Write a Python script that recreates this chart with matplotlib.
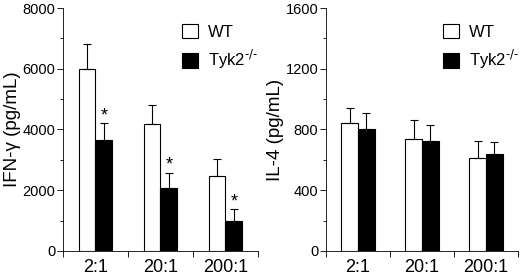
import numpy as np
import matplotlib
matplotlib.use("Agg")
import matplotlib.pyplot as plt
from matplotlib.ticker import MultipleLocator, FixedLocator

plt.rcParams["font.family"] = ["Liberation Sans", "DejaVu Sans"]

ratios = ["2:1", "20:1", "200:1"]

# IFN-gamma (pg/mL)
ifn_wt = [6000, 4180, 2480]
ifn_wt_err = [800, 620, 540]
ifn_ko = [3650, 2080, 980]
ifn_ko_err = [550, 500, 400]

# IL-4 (pg/mL)
il4_wt = [845, 740, 615]
il4_wt_err = [95, 125, 110]
il4_ko = [805, 725, 640]
il4_ko_err = [105, 105, 80]


def draw_panel(ax, wt, wt_err, ko, ko_err, ymax, ystep, ylabel, stars=False):
    x = np.arange(len(ratios))
    w = 0.26
    ekw = dict(elinewidth=0.8, capthick=0.8, ecolor="black")
    ax.bar(x - w / 2, wt, w, color="white", edgecolor="black", linewidth=0.8,
           yerr=[np.zeros(len(wt)), wt_err], capsize=3, error_kw=ekw,
           label="WT", zorder=2)
    ax.bar(x + w / 2, ko, w, color="black", edgecolor="black", linewidth=0.8,
           yerr=[np.zeros(len(ko)), ko_err], capsize=3, error_kw=ekw,
           label=r"Tyk2$^{\text{-/-}}$", zorder=2)
    if stars:
        for xi, v, e in zip(x, ko, ko_err):
            ax.text(xi + w / 2, v + e - ymax * 0.005, "*", ha="center",
                    va="bottom", fontsize=13)

    ax.set_xlim(-0.5, 2.5)
    ax.set_ylim(0, ymax)
    ax.set_xticks(x)
    ax.set_xticklabels(ratios, fontsize=13)
    ax.xaxis.set_minor_locator(FixedLocator([-0.5, 0.5, 1.5, 2.5]))
    ax.tick_params(axis="x", which="major", length=0, pad=6)
    ax.tick_params(axis="x", which="minor", length=4, width=0.6)
    ax.yaxis.set_major_locator(MultipleLocator(ystep))
    ax.yaxis.set_minor_locator(MultipleLocator(ystep / 2))
    ax.tick_params(axis="y", which="major", length=4, width=0.6, labelsize=10.5, pad=1.5)
    ax.tick_params(axis="y", which="minor", length=2.5, width=0.6)
    for s in ["top", "right"]:
        ax.spines[s].set_visible(False)
    for s in ["left", "bottom"]:
        ax.spines[s].set_linewidth(0.6)
    ax.set_ylabel(ylabel, fontsize=13.5, labelpad=1)
    ax.legend(loc="upper left", bbox_to_anchor=(0.61, 0.935), frameon=False,
              fontsize=12, handlelength=0.95, handleheight=0.95,
              handletextpad=0.6, labelspacing=0.5, borderpad=0,
              borderaxespad=0)


fig = plt.figure(figsize=(5.2, 2.77), dpi=100)
ax1 = fig.add_axes([0.121, 0.094, 0.375, 0.877])
ax2 = fig.add_axes([0.627, 0.094, 0.369, 0.877])

draw_panel(ax1, ifn_wt, ifn_wt_err, ifn_ko, ifn_ko_err, 8000, 2000,
           "IFN-\u03b3 (pg/mL)", stars=True)
draw_panel(ax2, il4_wt, il4_wt_err, il4_ko, il4_ko_err, 1600, 400,
           "IL-4 (pg/mL)")

fig.savefig("out.png", dpi=100)
